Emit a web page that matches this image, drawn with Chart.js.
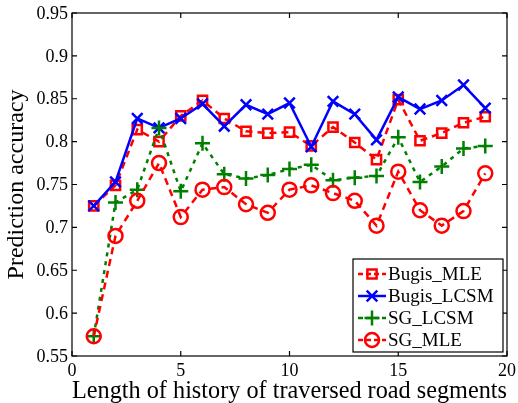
<!DOCTYPE html>
<html><head><meta charset="utf-8">
<script src="https://cdn.jsdelivr.net/npm/chart.js@4"></script>
<style>html,body{margin:0;padding:0;background:#fff}#wrap{width:518px;height:403px}</style>
</head><body><div id="wrap"><canvas id="c" width="518" height="403"></canvas></div>
<script>
const xValues = [1,2,3,4,5,6,7,8,9,10,11,12,13,14,15,16,17,18,19];
const bugisMLE = [0.725,0.749,0.814,0.800,0.830,0.848,0.827,0.812,0.810,0.811,0.795,0.817,0.799,0.779,0.849,0.801,0.810,0.822,0.829];
const bugisLCSM = [0.725,0.753,0.827,0.816,0.827,0.844,0.818,0.843,0.832,0.845,0.794,0.847,0.832,0.802,0.852,0.838,0.848,0.866,0.839];
const sgLCSM = [0.573,0.729,0.744,0.816,0.742,0.798,0.762,0.757,0.761,0.768,0.773,0.755,0.758,0.760,0.805,0.753,0.771,0.792,0.795];
const sgMLE = [0.573,0.690,0.731,0.775,0.712,0.744,0.747,0.727,0.717,0.744,0.749,0.740,0.731,0.702,0.765,0.720,0.702,0.719,0.763];
const seriesNames = ['Bugis_MLE','Bugis_LCSM','SG_LCSM','SG_MLE'];
const xTicks = [0,5,10,15,20];
const yTicks = [0.55,0.6,0.65,0.7,0.75,0.8,0.85,0.9,0.95];
const xTickLabels = ['0','5','10','15','20'];
const yTickLabels = ['0.55','0.6','0.65','0.7','0.75','0.8','0.85','0.9','0.95'];

const FONT = "'Liberation Serif', serif";
Chart.defaults.font.family = FONT;
const pts = arr => arr.map((v,i)=>({x:xValues[i], y:v}));

const styles = [
  {color:'#ff0000', dash:[7,5], point:'rect', r:6.5, w:2.5},
  {color:'#0000ff', dash:[], point:'crossRot', r:7.5, w:2.5},
  {color:'#008000', dash:[4,5], point:'cross', r:7.5, w:2.5},
  {color:'#ff0000', dash:[7,5], point:'circle', r:7, w:2.5}
];
const data = [bugisMLE, bugisLCSM, sgLCSM, sgMLE];

const datasets = data.map((d,i)=>({
  label: seriesNames[i],
  data: pts(d),
  borderColor: styles[i].color,
  backgroundColor: 'rgba(0,0,0,0)',
  borderWidth: styles[i].w,
  borderDash: styles[i].dash,
  pointStyle: styles[i].point,
  pointRadius: styles[i].r,
  pointBorderWidth: 2.5,
  pointBorderColor: styles[i].color,
  pointBackgroundColor: 'rgba(0,0,0,0)',
  tension: 0,
  order: 4 - i
}));

const frame = {
  id:'frame',
  afterDatasetsDraw(chart){
    const {ctx, chartArea:a, scales:{x,y}} = chart;
    ctx.save();
    ctx.strokeStyle='#000'; ctx.lineWidth=1.2; ctx.setLineDash([]);
    ctx.strokeRect(a.left, a.top, a.right-a.left, a.bottom-a.top);
    const L=5;
    ctx.beginPath();
    xTicks.forEach(t=>{const px=x.getPixelForValue(t);
      ctx.moveTo(px,a.bottom);ctx.lineTo(px,a.bottom-L);
      ctx.moveTo(px,a.top);ctx.lineTo(px,a.top+L);});
    yTicks.forEach(t=>{const py=y.getPixelForValue(t);
      ctx.moveTo(a.left,py);ctx.lineTo(a.left+L,py);
      ctx.moveTo(a.right,py);ctx.lineTo(a.right-L,py);});
    ctx.stroke();
    // tick labels
    ctx.fillStyle='#000';
    ctx.font='18px '+FONT;
    ctx.textBaseline='middle';
    ctx.textAlign='center';
    xTicks.forEach((t,i)=>ctx.fillText(xTickLabels[i], x.getPixelForValue(t), a.bottom+15));
    ctx.textAlign='right';
    yTicks.forEach((t,i)=>ctx.fillText(yTickLabels[i], a.left-4, y.getPixelForValue(t)+1));
    // legend
    const bx=353, by=259, bw=150, bh=93;
    ctx.fillStyle='#fff'; ctx.fillRect(bx,by,bw,bh);
    ctx.strokeStyle='#000'; ctx.lineWidth=1.2; ctx.strokeRect(bx,by,bw,bh);
    const rows=[274,296,318,340];
    ctx.font='19px '+FONT; ctx.textBaseline='middle'; ctx.textAlign='left';
    rows.forEach((ry,i)=>{
      const s=styles[i];
      ctx.strokeStyle=s.color; ctx.lineWidth=2.5; ctx.setLineDash(s.dash.length?[5,3]:[]);
      ctx.beginPath(); ctx.moveTo(358,ry); ctx.lineTo(386,ry); ctx.stroke();
      ctx.setLineDash([]);
      ctx.fillStyle='rgba(0,0,0,0)';
      Chart.helpers.drawPoint(ctx,{pointStyle:s.point,radius:s.r,borderWidth:2.5},372,ry);
      ctx.fillStyle='#000';
      ctx.fillText(seriesNames[i],388,ry+1);
    });
    ctx.restore();
  }
};

new Chart(document.getElementById('c'),{
  type:'line',
  data:{datasets},
  options:{
    responsive:false, animation:false,
    layout:{padding:{left:0,right:11,top:13,bottom:0}},
    plugins:{legend:{display:false},tooltip:{enabled:false}},
    scales:{
      x:{type:'linear',min:0,max:20,
        afterBuildTicks:s=>{s.ticks=xTicks.map(v=>({value:v}));},
        afterFit:s=>{s.height=47;},
        grid:{display:false}, border:{display:false},
        ticks:{display:false},
        title:{display:true,text:'Length of history of traversed road segments',color:'#000',font:{family:FONT,size:25,lineHeight:1.0},padding:{top:0,bottom:-1}}
      },
      y:{type:'linear',min:0.55,max:0.95,
        afterBuildTicks:s=>{s.ticks=yTicks.map(v=>({value:v}));},
        afterFit:s=>{s.width=72;},
        grid:{display:false}, border:{display:false},
        ticks:{display:false},
        title:{display:true,text:'Prediction accuracy',color:'#000',font:{family:FONT,size:24,lineHeight:1.1},padding:{top:4,bottom:0}}
      }
    }
  },
  plugins:[frame]
});
</script></body></html>
